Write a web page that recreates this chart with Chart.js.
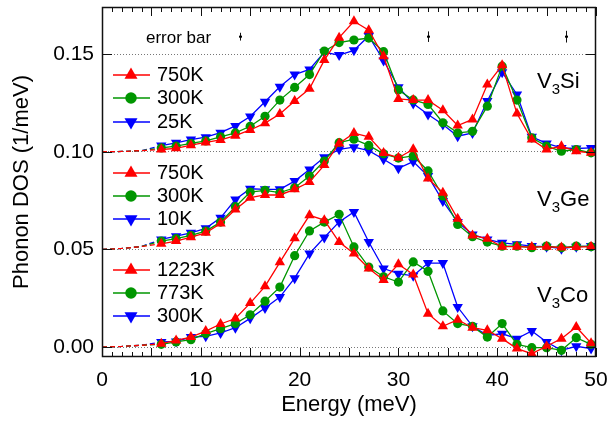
<!DOCTYPE html>
<html>
<head>
<meta charset="utf-8">
<script src="https://cdn.jsdelivr.net/npm/chart.js@4.4.1/dist/chart.umd.min.js"></script>
<style>
  html, body { margin: 0; padding: 0; background: #fff; }
</style>
</head>
<body>
<canvas id="dosChart" width="608" height="422"></canvas>
<script>
// marker energies (meV), dashed low-energy part
const energies = [6, 7.5, 9, 10.5, 12, 13.5, 15, 16.5, 18, 19.5, 21, 22.5, 24, 25.5, 27,
  28.5, 30, 31.5, 33, 34.5, 36, 37.5, 39, 40.5, 42, 43.5, 45, 46.5, 48, 49.5];
const dashEnergies = [0, 2, 4];

// vertical offsets of each compound
const siOffset = 0.10;
const geOffset = 0.05;
const coOffset = 0.00;

const siTemps = ["750K", "300K", "25K"];
const geTemps = ["750K", "300K", "10K"];
const coTemps = ["1223K", "773K", "300K"];

// V3Si
const si750 = [0.0012, 0.0018, 0.0034, 0.0048, 0.0061, 0.0083, 0.0112, 0.0147, 0.0194, 0.0260, 0.0323, 0.0470, 0.0585, 0.0669, 0.0623,
  0.0490, 0.0271, 0.0265, 0.0265, 0.0213, 0.0135, 0.0166, 0.0345, 0.0443, 0.0196, 0.0063, 0.0012, 0.0029, 0.0003, -0.0005];
const si300 = [0.0020, 0.0029, 0.0043, 0.0056, 0.0077, 0.0097, 0.0131, 0.0182, 0.0265, 0.0330, 0.0396, 0.0516, 0.0560, 0.0573, 0.0583,
  0.0513, 0.0317, 0.0266, 0.0243, 0.0149, 0.0097, 0.0105, 0.0234, 0.0439, 0.0265, 0.0072, 0.0029, 0.0003, 0.0012, -0.0005];
const si25 = [0.0032, 0.0046, 0.0063, 0.0075, 0.0098, 0.0133, 0.0181, 0.0257, 0.0333, 0.0396, 0.0422, 0.0510, 0.0496, 0.0520, 0.0593,
  0.0468, 0.0331, 0.0248, 0.0191, 0.0140, 0.0080, 0.0097, 0.0260, 0.0408, 0.0294, 0.0077, 0.0043, 0.0020, 0.0017, 0.0020];
const siDash = [0, 0.0002, 0.0006];

// V3Ge
const ge750 = [0.0029, 0.0043, 0.0063, 0.0085, 0.0133, 0.0205, 0.0265, 0.0279, 0.0279, 0.0308, 0.0345, 0.0432, 0.0543, 0.0596, 0.0577,
  0.0494, 0.0470, 0.0513, 0.0363, 0.0291, 0.0157, 0.0072, 0.0055, 0.0014, 0.0014, 0.0012, 0.0014, 0.0010, 0.0012, 0.0014];
const ge300 = [0.0043, 0.0055, 0.0072, 0.0094, 0.0140, 0.0219, 0.0294, 0.0303, 0.0291, 0.0316, 0.0376, 0.0453, 0.0547, 0.0565, 0.0533,
  0.0490, 0.0468, 0.0479, 0.0402, 0.0274, 0.0128, 0.0065, 0.0038, 0.0017, 0.0017, 0.0009, 0.0017, 0.0009, 0.0017, 0.0014];
const ge10 = [0.0051, 0.0068, 0.0085, 0.0108, 0.0162, 0.0256, 0.0311, 0.0308, 0.0308, 0.0350, 0.0410, 0.0472, 0.0513, 0.0524, 0.0506,
  0.0462, 0.0416, 0.0450, 0.0376, 0.0248, 0.0140, 0.0077, 0.0051, 0.0034, 0.0026, 0.0017, 0.0014, 0.0004, 0.0014, 0.0017];
const geDash = [0, 0.0005, 0.0015];

// V3Co
const co1223 = [0.0017, 0.0034, 0.0051, 0.0082, 0.0118, 0.0146, 0.0225, 0.0311, 0.0434, 0.0557, 0.0675, 0.0650, 0.0538, 0.0479, 0.0402,
  0.0344, 0.0424, 0.0372, 0.0171, 0.0106, 0.0140, 0.0099, 0.0086, 0.0043, -0.0008, -0.0034, 0.0004, 0.0043, 0.0103, 0.0020];
const co773 = [0.0014, 0.0026, 0.0038, 0.0069, 0.0094, 0.0120, 0.0165, 0.0235, 0.0307, 0.0468, 0.0595, 0.0640, 0.0680, 0.0513, 0.0410,
  0.0360, 0.0333, 0.0436, 0.0388, 0.0185, 0.0120, 0.0106, 0.0051, 0.0120, 0.0014, -0.0003, -0.0003, -0.0017, 0.0048, 0.0014];
const co300 = [0.0026, 0.0029, 0.0051, 0.0055, 0.0072, 0.0099, 0.0147, 0.0200, 0.0256, 0.0353, 0.0479, 0.0561, 0.0641, 0.0692, 0.0538,
  0.0402, 0.0376, 0.0365, 0.0430, 0.0430, 0.0205, 0.0106, 0.0060, 0.0068, 0.0043, 0.0082, 0.0026, -0.0017, 0.0004, -0.0008];
const coDash = [0, 0.0003, 0.0009];

// error bars drawn near the top
const errEnergies = [14, 33, 47];
const errCenter = [0.159, 0.159, 0.159];
const errHalf = [0.002, 0.0027, 0.003];

const colors = ["rgb(255,0,0)", "rgb(0,150,0)", "rgb(0,0,255)"];
const markers = [
  { pointStyle: "triangle", radius: 6, rotation: 0 },
  { pointStyle: "circle", radius: 4.6, rotation: 0 },
  { pointStyle: "triangle", radius: 6, rotation: 180 },
];

const groups = [
  { name: "Si", temps: siTemps, series: [si750, si300, si25], dash: siDash, offset: siOffset },
  { name: "Ge", temps: geTemps, series: [ge750, ge300, ge10], dash: geDash, offset: geOffset },
  { name: "Co", temps: coTemps, series: [co1223, co773, co300], dash: coDash, offset: coOffset },
];

const datasets = [];
groups.forEach((g) => {
  g.series.forEach((vals, i) => {
    datasets.push({
      label: "V3" + g.name + " " + g.temps[i],
      data: energies.map((e, k) => ({ x: e, y: vals[k] + g.offset })),
      borderColor: colors[i],
      backgroundColor: colors[i],
      borderWidth: 1.3,
      pointStyle: markers[i].pointStyle,
      pointRadius: markers[i].radius,
      pointRotation: markers[i].rotation,
      pointBorderWidth: 0,
      pointBackgroundColor: colors[i],
      order: i + 1,
    });
    const dashX = dashEnergies.concat([energies[0]]);
    const dashY = g.dash.concat([vals[0]]);
    datasets.push({
      label: "V3" + g.name + " " + g.temps[i] + " low E",
      data: dashX.map((e, k) => ({ x: e, y: dashY[k] + g.offset })),
      borderColor: colors[i],
      borderWidth: 1.3,
      borderDash: [5, 3],
      pointRadius: 0,
      order: i + 1,
    });
  });
});

// frame, inward ticks, error bars
const frameTicks = {
  id: "frameTicks",
  afterDatasetsDraw(chart) {
    const { ctx, chartArea: a, scales } = chart;
    const x = scales.x, y = scales.y;
    ctx.save();
    ctx.strokeStyle = "#111";
    ctx.lineWidth = 1;
    for (let e = 0; e <= 50; e++) {
      const px = Math.round(x.getPixelForValue(e)) + 0.5;
      const len = e % 5 === 0 ? 9 : 5;
      ctx.beginPath();
      ctx.moveTo(px, a.bottom); ctx.lineTo(px, a.bottom - len);
      ctx.moveTo(px, a.top); ctx.lineTo(px, a.top + len);
      ctx.stroke();
    }
    y.ticks.forEach((t) => {
      const py = Math.round(y.getPixelForValue(t.value)) + 0.5;
      ctx.beginPath();
      ctx.moveTo(a.left, py); ctx.lineTo(a.left + 10, py);
      ctx.moveTo(a.right, py); ctx.lineTo(a.right - 10, py);
      ctx.stroke();
    });
    ctx.lineWidth = 1.5;
    ctx.strokeRect(a.left + 0.5, a.top + 0.5, a.width - 1, a.height - 1);

    // error bars
    ctx.lineWidth = 1;
    ctx.fillStyle = "#000";
    errEnergies.forEach((e, i) => {
      const px = Math.round(x.getPixelForValue(e)) + 0.5;
      const y1 = y.getPixelForValue(errCenter[i] + errHalf[i]);
      const y2 = y.getPixelForValue(errCenter[i] - errHalf[i]);
      const yc = y.getPixelForValue(errCenter[i]);
      ctx.beginPath();
      ctx.moveTo(px, y1); ctx.lineTo(px, y2);
      ctx.stroke();
      ctx.fillRect(px - 1.5, yc - 1, 3, 2);
    });
    ctx.restore();
  },
};

// three legends, compound names, "error bar" label
const annotations = {
  id: "annotations",
  afterDraw(chart) {
    const { ctx, chartArea: a } = chart;
    const legendRows = [[75, 98, 122], [173, 196, 219], [270, 293, 316]];
    const nameRows = [82, 200, 296];
    ctx.save();
    groups.forEach((g, gi) => {
      g.temps.forEach((t, i) => {
        const yy = legendRows[gi][i];
        ctx.strokeStyle = colors[i];
        ctx.fillStyle = colors[i];
        ctx.lineWidth = 1.3;
        ctx.beginPath();
        ctx.moveTo(a.left + 11, yy); ctx.lineTo(a.left + 48, yy);
        ctx.stroke();
        Chart.helpers.drawPoint(ctx, {
          pointStyle: markers[i].pointStyle,
          radius: markers[i].radius * 1.25,
          rotation: markers[i].rotation,
          borderWidth: 0,
        }, a.left + 29, yy);
        ctx.fillStyle = "#000";
        ctx.font = "20px 'Liberation Sans', Arial, sans-serif";
        ctx.textAlign = "left";
        ctx.textBaseline = "middle";
        ctx.fillText(t, a.left + 55, yy);
      });
      // compound label with subscript
      const yy = nameRows[gi];
      let xx = 537;
      ctx.fillStyle = "#000";
      ctx.textBaseline = "middle";
      ctx.font = "22px 'Liberation Sans', Arial, sans-serif";
      ctx.fillText("V", xx, yy);
      xx += ctx.measureText("V").width;
      ctx.font = "15px 'Liberation Sans', Arial, sans-serif";
      ctx.fillText("3", xx, yy + 8);
      xx += ctx.measureText("3").width;
      ctx.font = "22px 'Liberation Sans', Arial, sans-serif";
      ctx.fillText(g.name, xx, yy);
    });
    ctx.font = "17px 'Liberation Sans', Arial, sans-serif";
    ctx.fillText("error bar", 146, 38);
    ctx.restore();
  },
};

const config = {
  type: "line",
  data: { datasets: datasets },
  options: {
    responsive: false,
    animation: false,
    layout: { padding: { top: 7, right: 12, left: 0, bottom: 0 } },
    plugins: {
      legend: { display: false },
      tooltip: { enabled: false },
    },
    scales: {
      x: {
        type: "linear",
        min: 0,
        max: 50,
        grid: { display: false },
        border: { display: false },
        ticks: {
          stepSize: 10,
          maxRotation: 0,
          padding: 3,
          color: "#000",
          font: { size: 21, family: "'Liberation Sans', Arial, sans-serif" },
        },
        title: {
          display: true,
          text: "Energy (meV)",
          color: "#000",
          padding: { top: 0, bottom: 4 },
          font: { size: 22, family: "'Liberation Sans', Arial, sans-serif" },
        },
        afterFit(scale) {
          scale.height = 65;
          scale.paddingLeft = 0;
          scale.paddingRight = 0;
        },
      },
      y: {
        min: -0.0051,
        max: 0.1742,
        grid: { color: "#777", lineWidth: 1, drawTicks: false },
        border: { display: false, dash: [1, 2] },
        ticks: {
          stepSize: 0.05,
          includeBounds: false,
          padding: 8,
          color: "#000",
          font: { size: 21, family: "'Liberation Sans', Arial, sans-serif" },
          callback: (v) => v.toFixed(2),
        },
        title: {
          display: true,
          text: "Phonon DOS (1/meV)",
          color: "#000",
          padding: { top: 9, bottom: 0 },
          font: { size: 22, family: "'Liberation Sans', Arial, sans-serif" },
        },
        afterFit(scale) {
          scale.width = 102;
          scale.paddingTop = 0;
          scale.paddingBottom = 0;
        },
      },
    },
  },
  plugins: [frameTicks, annotations],
};

const dosChart = new Chart(document.getElementById("dosChart"), config);
</script>
</body>
</html>
